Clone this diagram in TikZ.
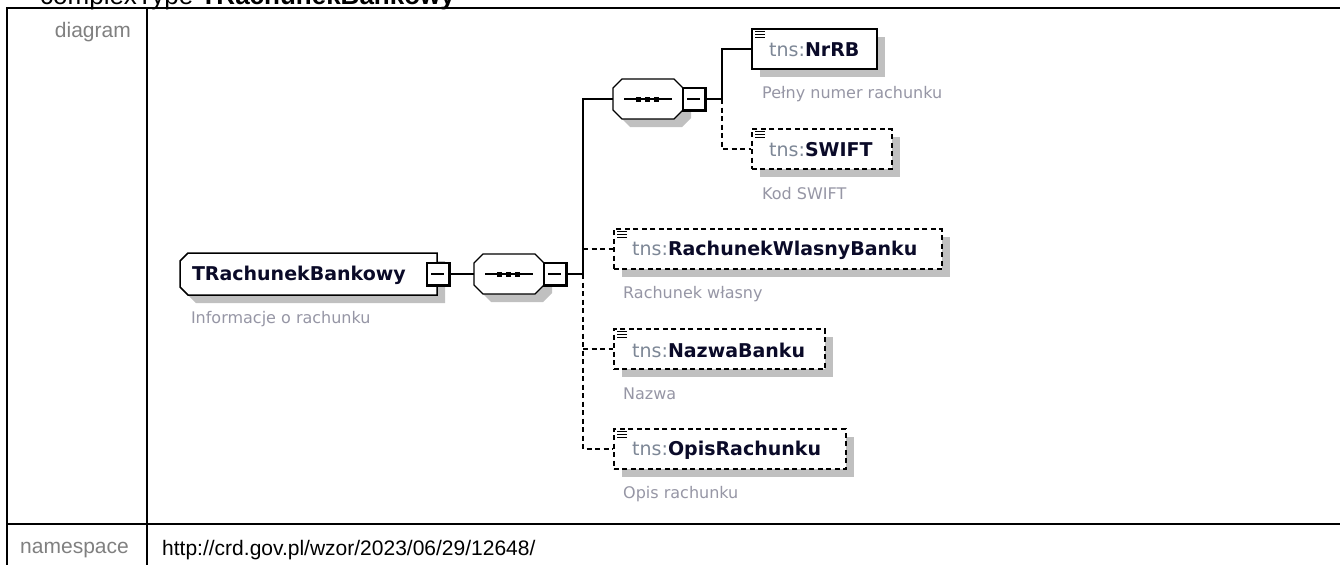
\documentclass[tikz,border=0pt]{standalone}
\usepackage{fontspec}
\setmainfont{DejaVu Sans}
\newfontfamily\arialf{Liberation Sans}
\usetikzlibrary{shadows}
\definecolor{tnsc}{RGB}{125,135,150}
\definecolor{namec}{RGB}{10,10,40}
\definecolor{descc}{RGB}{150,150,165}
\definecolor{shc}{RGB}{192,192,192}
\definecolor{labc}{RGB}{128,128,128}
\newcommand\mnsbox[3]{%
  \node[minus] (#1) at (#2,#3) {};
  \draw[line width=2.4pt] (#1.north east) -- (#1.south east) -- (#1.south west);
  \draw[line width=1.3pt] ([xshift=5pt]#1.west) -- ([xshift=-6pt]#1.east);}
\newcommand\octpath[2]{(#1-26,#2-20) -- (#1+26,#2-20) -- (#1+35,#2-11) -- (#1+35,#2+11) -- (#1+26,#2+20) -- (#1-26,#2+20) -- (#1-35,#2+11) -- (#1-35,#2-11) -- cycle}
\newcommand\seqshape[3]{%
  \fill[shc, shift={(8,8)}] \octpath{#2}{#3};
  \draw[fill=white, line width=1.3pt] \octpath{#2}{#3};
  \node[inner sep=0pt, minimum width=70pt, minimum height=40pt] (#1) at (#2,#3) {};
  \draw[line width=1.4pt] (#2-24,#3) -- (#2+24,#3);
  \fill (#2-12.5,#3-2.5) rectangle ++(5,5);
  \fill (#2-3.5,#3-2.5) rectangle ++(5,5);
  \fill (#2+5.5,#3-2.5) rectangle ++(5,5);}
\newcommand\elicon[1]{%
  \draw[line width=1.2pt] ([xshift=4pt,yshift=-3pt]#1.north west) -- ++(10,0);
  \draw[line width=1.2pt] ([xshift=4pt,yshift=-6pt]#1.north west) -- ++(10,0);
  \draw[line width=1.2pt] ([xshift=4pt,yshift=-9pt]#1.north west) -- ++(10,0);}
\begin{document}
\begin{tikzpicture}[x=1pt,y=-1pt,
  conn/.style={line width=1.4pt},
  optl/.style={line width=1.4pt, dash pattern=on 5pt off 3.5pt},
  shad/.style={drop shadow={shadow xshift=8pt,shadow yshift=-8pt,fill=shc,opacity=1}},
  elem/.style={draw, fill=white, line width=1.8pt, minimum height=40pt, inner sep=0pt, anchor=west, shad},
  optelem/.style={elem, dash pattern=on 5pt off 3.5pt},
  lbl/.style={anchor=west, inner sep=0pt, font=\fontsize{19}{22}\selectfont},
  desc/.style={anchor=west, inner sep=0pt, text=descc, font=\fontsize{16}{19}\selectfont},
  minus/.style={draw, fill=white, line width=1.2pt, minimum size=22pt, inner sep=0pt},
  tbl/.style={line width=2pt},
  hdr/.style={font=\arialf\fontsize{21}{24}\selectfont, text=labc, inner sep=0pt}
]
\useasboundingbox (0,0) rectangle (1340,565);
\clip (0,0) rectangle (1340,565);
\fill[white] (0,0) rectangle (1340,565);

% title (cut at top)
\node[anchor=base west, inner sep=0pt, font=\arialf\fontsize{26}{30}\selectfont] (title) at (40,4) {complexType \textbf{TRachunekBankowy}};

% table
\draw[tbl] (6,8) -- (1340,8);
\draw[tbl] (7,7) -- (7,565);
\draw[tbl] (147,7) -- (147,565);
\draw[tbl] (6,524) -- (1340,524);
\node[hdr, anchor=east] (lbldiag) at (131,32) {diagram};
\node[hdr, anchor=east] (lblns) at (129,550) {namespace};
\node[hdr, text=black, anchor=west] (nsval) at (162,550) {http://crd.gov.pl/wzor/2023/06/29/12648/};

% root element
\fill[shc, shift={(8,8)}] (188,253) -- (437,253) -- (437,295) -- (188,295) -- (180,287) -- (180,261) -- cycle;
\draw[fill=white, line width=1.5pt] (188,253) -- (437,253) -- (437,295) -- (188,295) -- (180,287) -- (180,261) -- cycle;
\node[inner sep=0pt, minimum width=257pt, minimum height=42pt] (root) at (308.5,274) {};
\node[lbl] (rootT) at ([xshift=12pt,yshift=-1pt]root.west) {\textcolor{namec}{\bfseries TRachunekBankowy}};
\node[desc] (rootD) at ([xshift=11pt,yshift=-45pt]root.west) {Informacje o rachunku};

% sequences
\seqshape{seq1}{509}{274}
\seqshape{seq2}{648}{99}

% child elements
\node[elem, minimum width=125pt] (nrrb) at (751,49) {};
\node[optelem, minimum width=140pt] (swift) at (751,149) {};
\node[optelem, minimum width=328pt] (rwb) at (613,249) {};
\node[optelem, minimum width=211pt] (nazwa) at (613,349) {};
\node[optelem, minimum width=232pt] (opis) at (613,449) {};
\elicon{nrrb}\elicon{swift}\elicon{rwb}\elicon{nazwa}\elicon{opis}

\node[lbl] (nrrbT) at ([xshift=18pt,yshift=-1pt]nrrb.west) {\textcolor{tnsc}{tns:}\textcolor{namec}{\bfseries NrRB}};
\node[lbl] (swiftT) at ([xshift=18pt,yshift=-1pt]swift.west) {\textcolor{tnsc}{tns:}\textcolor{namec}{\bfseries SWIFT}};
\node[lbl] (rwbT) at ([xshift=19pt,yshift=-1pt]rwb.west) {\textcolor{tnsc}{tns:}\textcolor{namec}{\bfseries RachunekWlasnyBanku}};
\node[lbl] (nazwaT) at ([xshift=19pt,yshift=-1pt]nazwa.west) {\textcolor{tnsc}{tns:}\textcolor{namec}{\bfseries NazwaBanku}};
\node[lbl] (opisT) at ([xshift=19pt,yshift=-1pt]opis.west) {\textcolor{tnsc}{tns:}\textcolor{namec}{\bfseries OpisRachunku}};

\node[desc] (nrrbD) at ([xshift=11pt,yshift=-45pt]nrrb.west) {Pełny numer rachunku};
\node[desc] (swiftD) at ([xshift=11pt,yshift=-45pt]swift.west) {Kod SWIFT};
\node[desc] (rwbD) at ([xshift=10pt,yshift=-45pt]rwb.west) {Rachunek własny};
\node[desc] (nazwaD) at ([xshift=10pt,yshift=-45pt]nazwa.west) {Nazwa};
\node[desc] (opisD) at ([xshift=10pt,yshift=-45pt]opis.west) {Opis rachunku};

% connectors
\coordinate (j1) at (583,274);
\coordinate (j2) at (722,99);
\draw[conn] (root.east) -- (seq1.west);
\draw[conn] (seq1.east) -- (j1);
\draw[conn] (j1) |- (seq2.west);
\draw[optl] (j1) |- (opis.west);
\draw[optl] (rwb.west -| j1) -- (rwb.west);
\draw[optl] (nazwa.west -| j1) -- (nazwa.west);
\draw[conn] (seq2.east) -- (j2);
\draw[conn] (j2) |- (nrrb.west);
\draw[optl] (j2) |- (swift.west);

% collapse boxes
\mnsbox{rootm}{438}{274}
\mnsbox{seq1m}{555}{274}
\mnsbox{seq2m}{694}{99}
\end{tikzpicture}
\end{document}
